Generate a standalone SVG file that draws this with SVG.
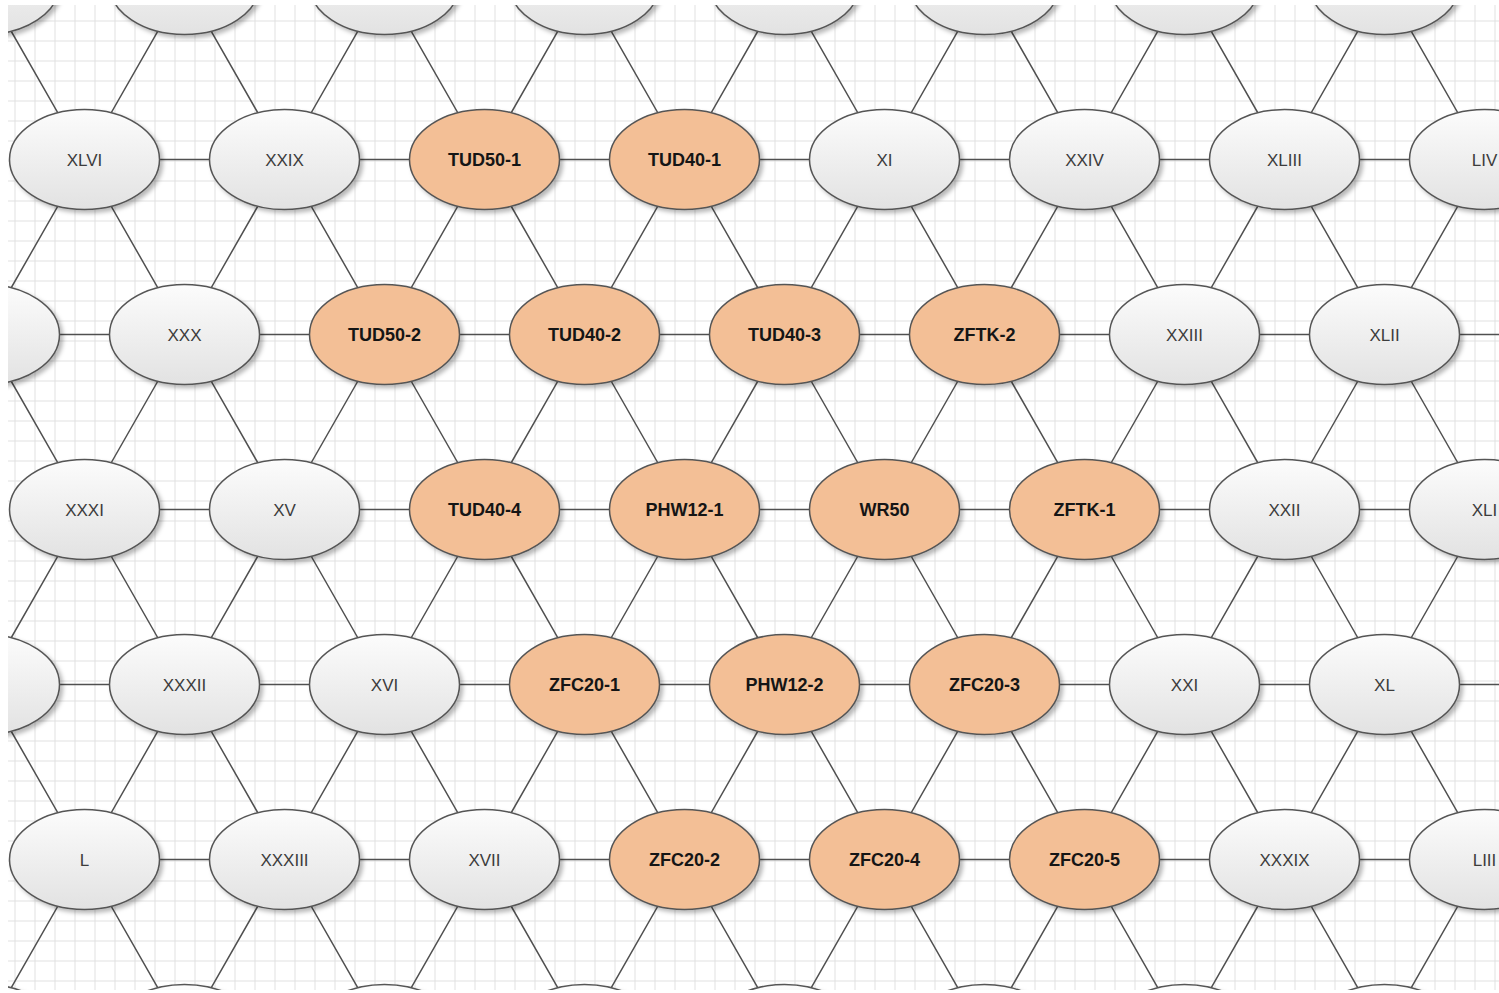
<svg xmlns="http://www.w3.org/2000/svg" width="1499" height="993" viewBox="0 0 1499 993">
<defs>
<pattern id="grid" patternUnits="userSpaceOnUse" x="14.5" y="20.5" width="20" height="20">
<path d="M0.5 0V20M0 0.5H20" stroke="#e0e0e0" stroke-width="1" fill="none"/>
</pattern>
<linearGradient id="gGray" x1="0" y1="0" x2="0" y2="1">
<stop offset="0" stop-color="#fcfcfc"/>
<stop offset="1" stop-color="#e2e2e2"/>
</linearGradient>
<filter id="sh" x="-20%" y="-20%" width="150%" height="150%">
<feDropShadow dx="3" dy="3" stdDeviation="2" flood-color="#000" flood-opacity="0.28"/>
</filter>
<clipPath id="clip"><rect x="8" y="5" width="1491" height="985"/></clipPath>
</defs>
<style>
.g ellipse{fill:url(#gGray);stroke:#555;stroke-width:1.5;filter:url(#sh)}
.o ellipse{fill:#f3bf96;stroke:#555;stroke-width:1.5;filter:url(#sh)}
text{font-family:"Liberation Sans",Arial,sans-serif;text-anchor:middle}
.g text{font-size:17px;fill:#3c3c3c}
.o text{font-size:18px;font-weight:bold;fill:#151515}
.edges{fill:none;stroke:#505050;stroke-width:1.5}
</style>
<rect width="1499" height="993" fill="#fff"/>
<g clip-path="url(#clip)">
<rect x="8" y="5" width="1491" height="985" fill="url(#grid)"/>
<g id="connectors" class="edges">
<path d="M84.5 159.5h200M284.5 159.5h200M484.5 159.5h200M684.5 159.5h200M884.5 159.5h200M1084.5 159.5h200M1284.5 159.5h200"/>
<path d="M-15.5 334.5h200M184.5 334.5h200M384.5 334.5h200M584.5 334.5h200M784.5 334.5h200M984.5 334.5h200M1184.5 334.5h200M1384.5 334.5h200"/>
<path d="M84.5 509.5h200M284.5 509.5h200M484.5 509.5h200M684.5 509.5h200M884.5 509.5h200M1084.5 509.5h200M1284.5 509.5h200"/>
<path d="M-15.5 684.5h200M184.5 684.5h200M384.5 684.5h200M584.5 684.5h200M784.5 684.5h200M984.5 684.5h200M1184.5 684.5h200M1384.5 684.5h200"/>
<path d="M84.5 859.5h200M284.5 859.5h200M484.5 859.5h200M684.5 859.5h200M884.5 859.5h200M1084.5 859.5h200M1284.5 859.5h200"/>
<path d="M84.5 159.5l-100-175M84.5 159.5l100-175M84.5 159.5l-100 175M84.5 159.5l100 175M284.5 159.5l-100-175M284.5 159.5l100-175M284.5 159.5l-100 175M284.5 159.5l100 175M484.5 159.5l-100-175M484.5 159.5l100-175M484.5 159.5l-100 175M484.5 159.5l100 175M684.5 159.5l-100-175M684.5 159.5l100-175M684.5 159.5l-100 175M684.5 159.5l100 175M884.5 159.5l-100-175M884.5 159.5l100-175M884.5 159.5l-100 175M884.5 159.5l100 175M1084.5 159.5l-100-175M1084.5 159.5l100-175M1084.5 159.5l-100 175M1084.5 159.5l100 175M1284.5 159.5l-100-175M1284.5 159.5l100-175M1284.5 159.5l-100 175M1284.5 159.5l100 175M1484.5 159.5l-100-175M1484.5 159.5l-100 175"/>
<path d="M84.5 509.5l-100-175M84.5 509.5l100-175M84.5 509.5l-100 175M84.5 509.5l100 175M284.5 509.5l-100-175M284.5 509.5l100-175M284.5 509.5l-100 175M284.5 509.5l100 175M484.5 509.5l-100-175M484.5 509.5l100-175M484.5 509.5l-100 175M484.5 509.5l100 175M684.5 509.5l-100-175M684.5 509.5l100-175M684.5 509.5l-100 175M684.5 509.5l100 175M884.5 509.5l-100-175M884.5 509.5l100-175M884.5 509.5l-100 175M884.5 509.5l100 175M1084.5 509.5l-100-175M1084.5 509.5l100-175M1084.5 509.5l-100 175M1084.5 509.5l100 175M1284.5 509.5l-100-175M1284.5 509.5l100-175M1284.5 509.5l-100 175M1284.5 509.5l100 175M1484.5 509.5l-100-175M1484.5 509.5l-100 175"/>
<path d="M84.5 859.5l-100-175M84.5 859.5l100-175M84.5 859.5l-100 175M84.5 859.5l100 175M284.5 859.5l-100-175M284.5 859.5l100-175M284.5 859.5l-100 175M284.5 859.5l100 175M484.5 859.5l-100-175M484.5 859.5l100-175M484.5 859.5l-100 175M484.5 859.5l100 175M684.5 859.5l-100-175M684.5 859.5l100-175M684.5 859.5l-100 175M684.5 859.5l100 175M884.5 859.5l-100-175M884.5 859.5l100-175M884.5 859.5l-100 175M884.5 859.5l100 175M1084.5 859.5l-100-175M1084.5 859.5l100-175M1084.5 859.5l-100 175M1084.5 859.5l100 175M1284.5 859.5l-100-175M1284.5 859.5l100-175M1284.5 859.5l-100 175M1284.5 859.5l100 175M1484.5 859.5l-100-175M1484.5 859.5l-100 175"/>
</g>
<g id="nodes">
<g id="n-r0-1" class="g" transform="translate(-15.5,-15.5)"><ellipse rx="75" ry="50"/></g>
<g id="n-r0-2" class="g" transform="translate(184.5,-15.5)"><ellipse rx="75" ry="50"/></g>
<g id="n-r0-3" class="g" transform="translate(384.5,-15.5)"><ellipse rx="75" ry="50"/></g>
<g id="n-r0-4" class="g" transform="translate(584.5,-15.5)"><ellipse rx="75" ry="50"/></g>
<g id="n-r0-5" class="g" transform="translate(784.5,-15.5)"><ellipse rx="75" ry="50"/></g>
<g id="n-r0-6" class="g" transform="translate(984.5,-15.5)"><ellipse rx="75" ry="50"/></g>
<g id="n-r0-7" class="g" transform="translate(1184.5,-15.5)"><ellipse rx="75" ry="50"/></g>
<g id="n-r0-8" class="g" transform="translate(1384.5,-15.5)"><ellipse rx="75" ry="50"/></g>

<g id="n-XLVI" class="g" transform="translate(84.5,159.5)"><ellipse rx="75" ry="50"/><text y="6">XLVI</text></g>
<g id="n-XXIX" class="g" transform="translate(284.5,159.5)"><ellipse rx="75" ry="50"/><text y="6">XXIX</text></g>
<g id="n-TUD50-1" class="o" transform="translate(484.5,159.5)"><ellipse rx="75" ry="50"/><text y="6">TUD50-1</text></g>
<g id="n-TUD40-1" class="o" transform="translate(684.5,159.5)"><ellipse rx="75" ry="50"/><text y="6">TUD40-1</text></g>
<g id="n-XI" class="g" transform="translate(884.5,159.5)"><ellipse rx="75" ry="50"/><text y="6">XI</text></g>
<g id="n-XXIV" class="g" transform="translate(1084.5,159.5)"><ellipse rx="75" ry="50"/><text y="6">XXIV</text></g>
<g id="n-XLIII" class="g" transform="translate(1284.5,159.5)"><ellipse rx="75" ry="50"/><text y="6">XLIII</text></g>
<g id="n-LIV" class="g" transform="translate(1484.5,159.5)"><ellipse rx="75" ry="50"/><text y="6">LIV</text></g>

<g id="n-r2-1" class="g" transform="translate(-15.5,334.5)"><ellipse rx="75" ry="50"/></g>
<g id="n-XXX" class="g" transform="translate(184.5,334.5)"><ellipse rx="75" ry="50"/><text y="6">XXX</text></g>
<g id="n-TUD50-2" class="o" transform="translate(384.5,334.5)"><ellipse rx="75" ry="50"/><text y="6">TUD50-2</text></g>
<g id="n-TUD40-2" class="o" transform="translate(584.5,334.5)"><ellipse rx="75" ry="50"/><text y="6">TUD40-2</text></g>
<g id="n-TUD40-3" class="o" transform="translate(784.5,334.5)"><ellipse rx="75" ry="50"/><text y="6">TUD40-3</text></g>
<g id="n-ZFTK-2" class="o" transform="translate(984.5,334.5)"><ellipse rx="75" ry="50"/><text y="6">ZFTK-2</text></g>
<g id="n-XXIII" class="g" transform="translate(1184.5,334.5)"><ellipse rx="75" ry="50"/><text y="6">XXIII</text></g>
<g id="n-XLII" class="g" transform="translate(1384.5,334.5)"><ellipse rx="75" ry="50"/><text y="6">XLII</text></g>

<g id="n-XXXI" class="g" transform="translate(84.5,509.5)"><ellipse rx="75" ry="50"/><text y="6">XXXI</text></g>
<g id="n-XV" class="g" transform="translate(284.5,509.5)"><ellipse rx="75" ry="50"/><text y="6">XV</text></g>
<g id="n-TUD40-4" class="o" transform="translate(484.5,509.5)"><ellipse rx="75" ry="50"/><text y="6">TUD40-4</text></g>
<g id="n-PHW12-1" class="o" transform="translate(684.5,509.5)"><ellipse rx="75" ry="50"/><text y="6">PHW12-1</text></g>
<g id="n-WR50" class="o" transform="translate(884.5,509.5)"><ellipse rx="75" ry="50"/><text y="6">WR50</text></g>
<g id="n-ZFTK-1" class="o" transform="translate(1084.5,509.5)"><ellipse rx="75" ry="50"/><text y="6">ZFTK-1</text></g>
<g id="n-XXII" class="g" transform="translate(1284.5,509.5)"><ellipse rx="75" ry="50"/><text y="6">XXII</text></g>
<g id="n-XLI" class="g" transform="translate(1484.5,509.5)"><ellipse rx="75" ry="50"/><text y="6">XLI</text></g>

<g id="n-r4-1" class="g" transform="translate(-15.5,684.5)"><ellipse rx="75" ry="50"/></g>
<g id="n-XXXII" class="g" transform="translate(184.5,684.5)"><ellipse rx="75" ry="50"/><text y="6">XXXII</text></g>
<g id="n-XVI" class="g" transform="translate(384.5,684.5)"><ellipse rx="75" ry="50"/><text y="6">XVI</text></g>
<g id="n-ZFC20-1" class="o" transform="translate(584.5,684.5)"><ellipse rx="75" ry="50"/><text y="6">ZFC20-1</text></g>
<g id="n-PHW12-2" class="o" transform="translate(784.5,684.5)"><ellipse rx="75" ry="50"/><text y="6">PHW12-2</text></g>
<g id="n-ZFC20-3" class="o" transform="translate(984.5,684.5)"><ellipse rx="75" ry="50"/><text y="6">ZFC20-3</text></g>
<g id="n-XXI" class="g" transform="translate(1184.5,684.5)"><ellipse rx="75" ry="50"/><text y="6">XXI</text></g>
<g id="n-XL" class="g" transform="translate(1384.5,684.5)"><ellipse rx="75" ry="50"/><text y="6">XL</text></g>

<g id="n-L" class="g" transform="translate(84.5,859.5)"><ellipse rx="75" ry="50"/><text y="6">L</text></g>
<g id="n-XXXIII" class="g" transform="translate(284.5,859.5)"><ellipse rx="75" ry="50"/><text y="6">XXXIII</text></g>
<g id="n-XVII" class="g" transform="translate(484.5,859.5)"><ellipse rx="75" ry="50"/><text y="6">XVII</text></g>
<g id="n-ZFC20-2" class="o" transform="translate(684.5,859.5)"><ellipse rx="75" ry="50"/><text y="6">ZFC20-2</text></g>
<g id="n-ZFC20-4" class="o" transform="translate(884.5,859.5)"><ellipse rx="75" ry="50"/><text y="6">ZFC20-4</text></g>
<g id="n-ZFC20-5" class="o" transform="translate(1084.5,859.5)"><ellipse rx="75" ry="50"/><text y="6">ZFC20-5</text></g>
<g id="n-XXXIX" class="g" transform="translate(1284.5,859.5)"><ellipse rx="75" ry="50"/><text y="6">XXXIX</text></g>
<g id="n-LIII" class="g" transform="translate(1484.5,859.5)"><ellipse rx="75" ry="50"/><text y="6">LIII</text></g>

<g id="n-r6-1" class="g" transform="translate(-15.5,1034.5)"><ellipse rx="75" ry="50"/></g>
<g id="n-r6-2" class="g" transform="translate(184.5,1034.5)"><ellipse rx="75" ry="50"/></g>
<g id="n-r6-3" class="g" transform="translate(384.5,1034.5)"><ellipse rx="75" ry="50"/></g>
<g id="n-r6-4" class="g" transform="translate(584.5,1034.5)"><ellipse rx="75" ry="50"/></g>
<g id="n-r6-5" class="g" transform="translate(784.5,1034.5)"><ellipse rx="75" ry="50"/></g>
<g id="n-r6-6" class="g" transform="translate(984.5,1034.5)"><ellipse rx="75" ry="50"/></g>
<g id="n-r6-7" class="g" transform="translate(1184.5,1034.5)"><ellipse rx="75" ry="50"/></g>
<g id="n-r6-8" class="g" transform="translate(1384.5,1034.5)"><ellipse rx="75" ry="50"/></g>
</g>
</g>
</svg>
